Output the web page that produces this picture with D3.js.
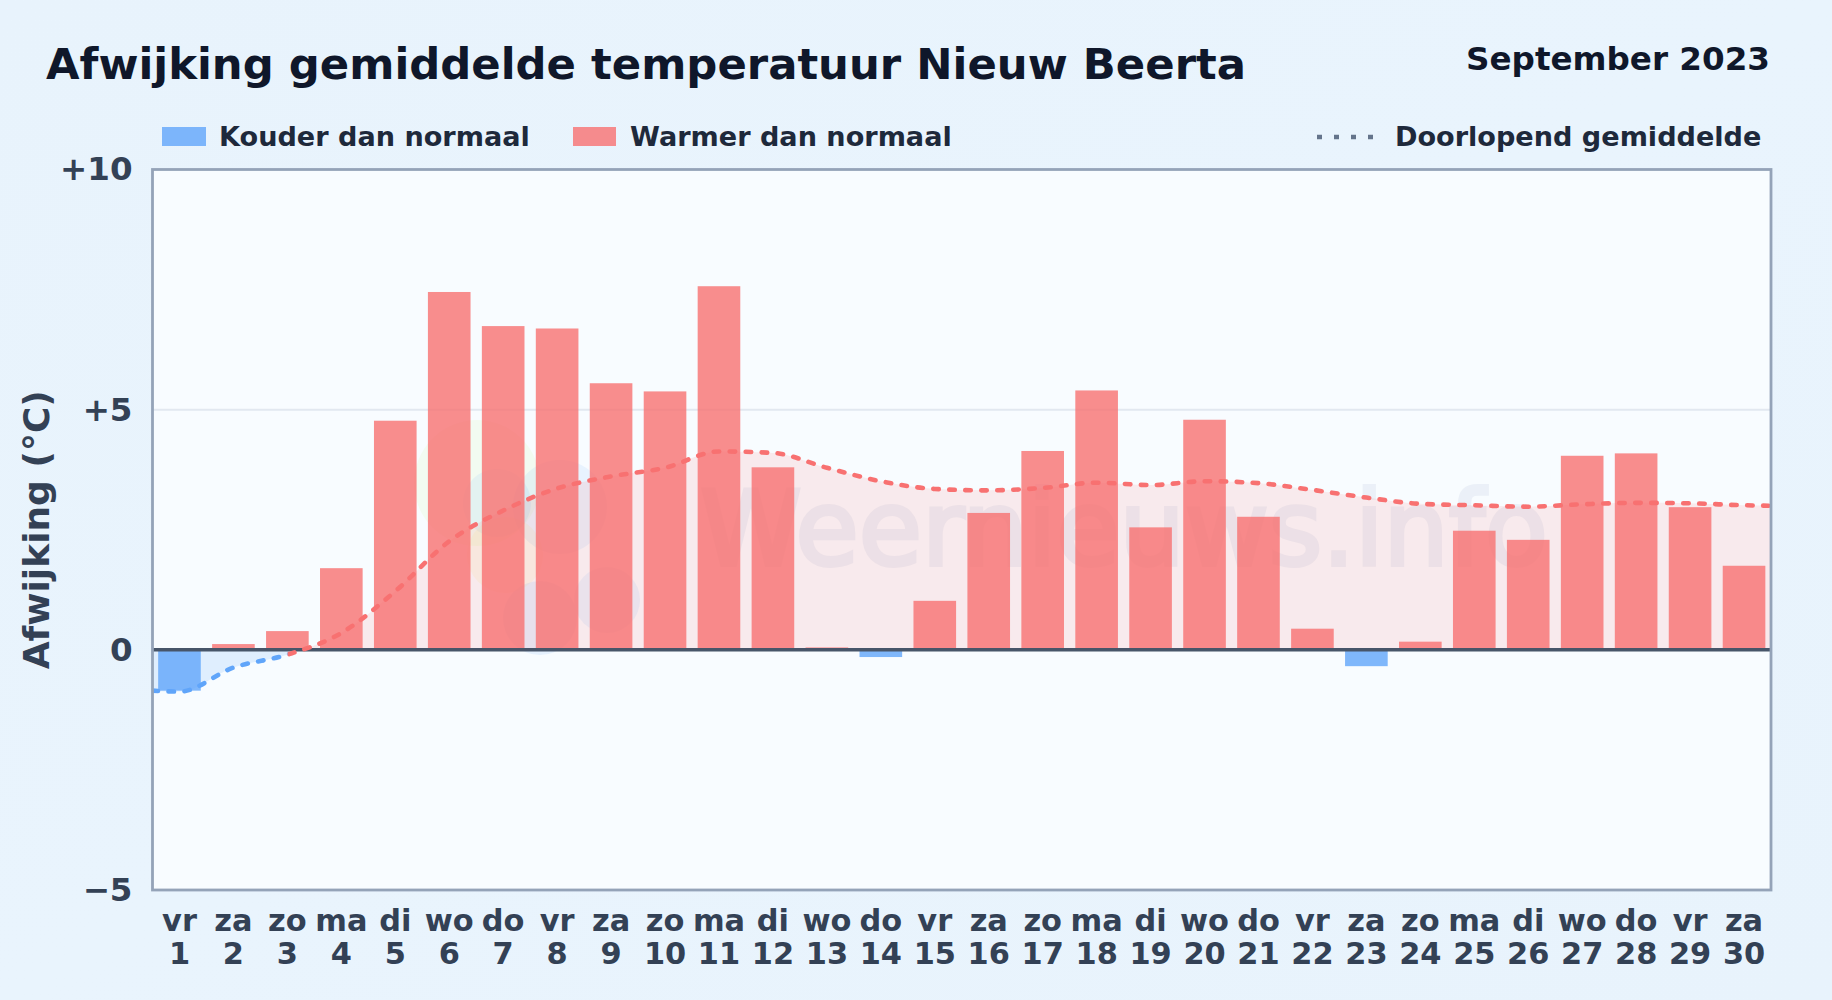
<!DOCTYPE html>
<html>
<head>
<meta charset="utf-8">
<script src="https://cdn.jsdelivr.net/npm/d3@7/dist/d3.min.js"></script>
<style>
  html, body { margin: 0; padding: 0; background: #e8f3fc; }
  svg { display: block; font-family: "DejaVu Sans", sans-serif; }
</style>
</head>
<body>
<svg id="chart" width="1832" height="1000"></svg>
<script>
// day numbers and weekday names along the x axis
const days = d3.range(1, 31)
const weekdays = ['vr','za','zo','ma','di','wo','do','vr','za','zo','ma','di','wo','do','vr',
                  'za','zo','ma','di','wo','do','vr','za','zo','ma','di','wo','do','vr','za']

// daily deviation in degrees
const deviation = [-0.85, 0.12, 0.39, 1.70, 4.77, 7.45, 6.74, 6.69, 5.55, 5.38,
                   7.57, 3.80, 0.05, -0.15, 1.02, 2.85, 4.14, 5.40, 2.55, 4.79,
                   2.77, 0.44, -0.34, 0.17, 2.48, 2.29, 4.04, 4.09, 2.97, 1.75]

// running mean (first and last value sit on the plot edges)
const meanDays = [0.5, ...days, 30.5]
const runningMean = [-0.85, -0.87, -0.37, -0.10, 0.35, 1.22, 2.26, 2.90, 3.36, 3.61, 3.79,
                     4.13, 4.10, 3.79, 3.51, 3.35, 3.32, 3.37, 3.48, 3.43, 3.51,
                     3.47, 3.33, 3.17, 3.04, 3.01, 2.98, 3.03, 3.06, 3.05, 3.01, 3.00]

const yTicks = [10, 5, 0, -5]
const yTickLabels = ['+10', '+5', '0', '\u22125']

const plotLeft = 152.5, plotRight = 1771, plotTop = 169.5, plotBottom = 890

const red = '#f87171'
const blue = '#60a5fa'
const tickColor = '#334155'

let svg = d3.select('#chart')
let defs = svg.append('defs')

let bgGradient = defs.append('linearGradient').attr('id', 'bg')
  .attr('x1', 0).attr('y1', 0).attr('x2', 1).attr('y2', 1)
bgGradient.append('stop').attr('offset', '0%').attr('stop-color', '#e8f3fc')
bgGradient.append('stop').attr('offset', '50%').attr('stop-color', '#e9f4fd')
bgGradient.append('stop').attr('offset', '100%').attr('stop-color', '#e8f3fc')

svg.append('rect').attr('width', 1832).attr('height', 1000).attr('fill', 'url(#bg)')

let x = d3.scaleBand().domain(days).range([plotLeft, plotRight]).paddingInner(0.21).paddingOuter(0.105)
let xLine = d3.scaleLinear().domain([0.5, 30.5]).range([plotLeft, plotRight])
let y = d3.scaleLinear().domain([-5, 10]).range([plotBottom, plotTop])

// area clips split on the zero line
defs.append('clipPath').attr('id', 'above').append('rect')
  .attr('x', plotLeft).attr('y', plotTop).attr('width', plotRight - plotLeft).attr('height', y(0) - plotTop)
defs.append('clipPath').attr('id', 'below').append('rect')
  .attr('x', plotLeft).attr('y', y(0)).attr('width', plotRight - plotLeft).attr('height', plotBottom - y(0))

// the line turns red from the last cold point on, not at the crossing itself
const lastCold = meanDays[runningMean.findIndex(v => v > 0) - 1]
defs.append('clipPath').attr('id', 'lineCold').append('rect')
  .attr('x', plotLeft).attr('y', plotTop).attr('width', xLine(lastCold) - plotLeft).attr('height', plotBottom - plotTop)
defs.append('clipPath').attr('id', 'lineWarm').append('rect')
  .attr('x', xLine(lastCold)).attr('y', plotTop).attr('width', plotRight - xLine(lastCold)).attr('height', plotBottom - plotTop)

svg.append('rect').attr('x', plotLeft).attr('y', plotTop)
  .attr('width', plotRight - plotLeft).attr('height', plotBottom - plotTop).attr('fill', '#f8fcff')

// grid
svg.append('g').selectAll('line').data([5]).join('line')
  .attr('x1', plotLeft).attr('x2', plotRight)
  .attr('y1', d => y(d)).attr('y2', d => y(d))
  .attr('stroke', '#e2e8f0').attr('stroke-width', 2)

// watermark behind everything
let mark = svg.append('g')
mark.append('text').text('Weernieuws.info')
  .attr('x', 700).attr('y', 565)
  .attr('font-size', 102.8)
  .attr('fill', '#1e3a8a').attr('stroke', '#1e3a8a').attr('stroke-width', 4)
  .attr('opacity', 0.055)
let logo = mark.append('g')
logo.append('circle').attr('cx', 477).attr('cy', 483).attr('r', 63).attr('fill', '#bef264').attr('opacity', 0.09)
logo.append('circle').attr('cx', 497).attr('cy', 503).attr('r', 34).attr('fill', '#60a5fa').attr('opacity', 0.1)
logo.append('circle').attr('cx', 560).attr('cy', 507).attr('r', 47).attr('fill', '#60a5fa').attr('opacity', 0.1)
logo.append('circle').attr('cx', 505).attr('cy', 555).attr('r', 38).attr('fill', '#fde047').attr('opacity', 0.09)
logo.append('circle').attr('cx', 540).attr('cy', 618).attr('r', 37).attr('fill', '#60a5fa').attr('opacity', 0.12)
logo.append('circle').attr('cx', 607).attr('cy', 600).attr('r', 33).attr('fill', '#60a5fa').attr('opacity', 0.1)

// area between running mean and zero
let area = d3.area()
  .x((d, i) => xLine(meanDays[i]))
  .y0(y(0))
  .y1(d => y(d))
  .curve(d3.curveMonotoneX)

svg.append('path').datum(runningMean).attr('d', area)
  .attr('fill', red).attr('opacity', 0.13).attr('clip-path', 'url(#above)')
svg.append('path').datum(runningMean).attr('d', area)
  .attr('fill', blue).attr('opacity', 0.16).attr('clip-path', 'url(#below)')

// bars
svg.append('g').selectAll('rect').data(deviation).join('rect')
  .attr('x', (d, i) => x(days[i]))
  .attr('width', x.bandwidth())
  .attr('y', d => y(Math.max(d, 0)))
  .attr('height', d => Math.abs(y(d) - y(0)))
  .attr('fill', d => d < 0 ? blue : red)
  .attr('opacity', 0.8)

// zero line
svg.append('line').attr('x1', plotLeft).attr('x2', plotRight).attr('y1', y(0)).attr('y2', y(0))
  .attr('stroke', '#475569').attr('stroke-width', 3.5)

// running mean line, same dash pattern for both colours
let line = d3.line()
  .x((d, i) => xLine(meanDays[i]))
  .y(d => y(d))
  .curve(d3.curveMonotoneX)

let addMean = (color, clip) => svg.append('path').datum(runningMean)
  .attr('d', line).attr('fill', 'none')
  .attr('stroke', color).attr('stroke-width', 4.6)
  .attr('stroke-linecap', 'round').attr('stroke-dasharray', '5.5 10.5')
  .attr('clip-path', clip)

addMean(red, 'url(#lineWarm)')
addMean(blue, 'url(#lineCold)')

// frame
svg.append('rect').attr('x', plotLeft).attr('y', plotTop)
  .attr('width', plotRight - plotLeft).attr('height', plotBottom - plotTop)
  .attr('fill', 'none').attr('stroke', '#94a3b8').attr('stroke-width', 2.8)

// y axis
let yAxis = svg.append('g').attr('transform', `translate(${plotLeft},0)`)
  .call(d3.axisLeft(y).tickValues(yTicks).tickSize(0).tickPadding(20)
    .tickFormat((d, i) => yTickLabels[i]))
yAxis.select('.domain').remove()
yAxis.selectAll('text')
  .attr('font-family', '"DejaVu Sans", sans-serif')
  .attr('font-size', 32.5).attr('font-weight', 700).attr('fill', tickColor)

// x axis, weekday above the day number
let xAxis = svg.append('g').attr('transform', `translate(0,${plotBottom})`)
  .call(d3.axisBottom(x).tickSize(0).tickFormat(''))
xAxis.select('.domain').remove()
xAxis.selectAll('.tick text').each(function (d, i) {
  let t = d3.select(this)
    .attr('y', 0).attr('dy', null)
    .attr('font-family', '"DejaVu Sans", sans-serif')
    .attr('font-size', 30.4).attr('font-weight', 700).attr('fill', tickColor)
  t.append('tspan').attr('x', 0).attr('y', 41).text(weekdays[i])
  t.append('tspan').attr('x', 0).attr('y', 74).text(d)
})

svg.append('text').text('Afwijking (°C)')
  .attr('transform', `translate(49,${(plotTop + plotBottom) / 2}) rotate(-90)`)
  .attr('text-anchor', 'middle')
  .attr('font-size', 36).attr('font-weight', 700).attr('fill', tickColor)

// title block
svg.append('text').text('Afwijking gemiddelde temperatuur Nieuw Beerta')
  .attr('x', 46).attr('y', 79)
  .attr('font-size', 43.35).attr('font-weight', 700).attr('fill', '#0f172a')
svg.append('text').text('September 2023')
  .attr('x', 1770).attr('y', 70).attr('text-anchor', 'end')
  .attr('font-size', 32.6).attr('font-weight', 700).attr('fill', '#0f172a')

// legend
const legendColor = '#1e293b'
let legend = svg.append('g').attr('font-size', 27.1).attr('font-weight', 700).attr('fill', legendColor)
legend.append('rect').attr('x', 162).attr('y', 127).attr('width', 44).attr('height', 19)
  .attr('fill', blue).attr('opacity', 0.8)
legend.append('text').text('Kouder dan normaal').attr('x', 219).attr('y', 146)
legend.append('rect').attr('x', 573).attr('y', 127).attr('width', 43).attr('height', 19)
  .attr('fill', red).attr('opacity', 0.8)
legend.append('text').text('Warmer dan normaal').attr('x', 630).attr('y', 146)
legend.append('line').attr('x1', 1317).attr('x2', 1374).attr('y1', 137).attr('y2', 137)
  .attr('stroke', '#64748b').attr('stroke-width', 4.5).attr('stroke-dasharray', '5 12')
legend.append('text').text('Doorlopend gemiddelde').attr('x', 1395).attr('y', 146)
</script>
</body>
</html>
